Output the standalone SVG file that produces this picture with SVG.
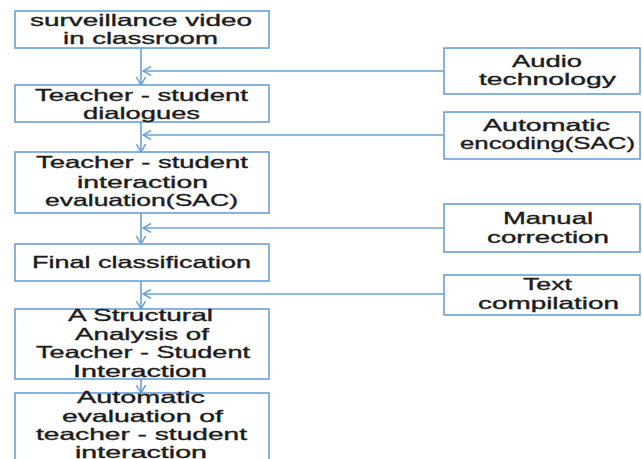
<svg xmlns="http://www.w3.org/2000/svg" width="642" height="459" viewBox="0 0 642 459">
<defs>
<style>
.box{fill:#fff;stroke:#6a9fd8;stroke-width:1.6}
.ln{fill:none;stroke:#6a9fd8;stroke-width:1.6}
text{font-family:"Liberation Sans",Arial,sans-serif;font-size:16.5px;fill:#1c1c1c;stroke:#1c1c1c;stroke-width:0.35}
</style>
<marker id="ah" viewBox="0 0 10 10" refX="9" refY="5" markerWidth="10" markerHeight="10" markerUnits="userSpaceOnUse" orient="auto">
<path d="M1,0.5 L9,5 L1,9.5" fill="none" stroke="#6a9fd8" stroke-width="1.5"/>
</marker>
</defs>
<rect width="642" height="459" fill="#fff"/>
<g id="connectors">
<line class="ln" x1="141" y1="48" x2="141" y2="85" marker-end="url(#ah)"/>
<line class="ln" x1="141" y1="122" x2="141" y2="152" marker-end="url(#ah)"/>
<line class="ln" x1="141" y1="213" x2="141" y2="244" marker-end="url(#ah)"/>
<line class="ln" x1="141" y1="281" x2="141" y2="309" marker-end="url(#ah)"/>
<line class="ln" x1="141" y1="379" x2="141" y2="393" marker-end="url(#ah)"/>
<line class="ln" x1="444" y1="71" x2="143" y2="71" marker-end="url(#ah)"/>
<line class="ln" x1="444" y1="135" x2="143" y2="135" marker-end="url(#ah)"/>
<line class="ln" x1="444" y1="228" x2="143" y2="228" marker-end="url(#ah)"/>
<line class="ln" x1="444" y1="294" x2="143" y2="294" marker-end="url(#ah)"/>
</g>
<g id="n1"><rect class="box" x="15" y="11" width="254" height="37"/>
<text x="30" y="26" textLength="222" lengthAdjust="spacingAndGlyphs">surveillance video</text>
<text x="63" y="44" textLength="155" lengthAdjust="spacingAndGlyphs">in classroom</text></g>
<g id="n2"><rect class="box" x="15" y="85" width="254" height="37"/>
<text x="35" y="101" textLength="213" lengthAdjust="spacingAndGlyphs">Teacher - student</text>
<text x="83" y="119" textLength="117" lengthAdjust="spacingAndGlyphs">dialogues</text></g>
<g id="n3"><rect class="box" x="15" y="152" width="254" height="61"/>
<text x="36" y="168" textLength="212" lengthAdjust="spacingAndGlyphs">Teacher - student</text>
<text x="77" y="188" textLength="131" lengthAdjust="spacingAndGlyphs">interaction</text>
<text x="45" y="206" textLength="193" lengthAdjust="spacingAndGlyphs">evaluation(SAC)</text></g>
<g id="n4"><rect class="box" x="15" y="244" width="254" height="37"/>
<text x="32" y="268" textLength="219" lengthAdjust="spacingAndGlyphs">Final classification</text></g>
<g id="n5"><rect class="box" x="15" y="309" width="254" height="70"/>
<text x="68" y="321" textLength="145" lengthAdjust="spacingAndGlyphs">A Structural</text>
<text x="75" y="340" textLength="134" lengthAdjust="spacingAndGlyphs">Analysis of</text>
<text x="36" y="358" textLength="214" lengthAdjust="spacingAndGlyphs">Teacher - Student</text>
<text x="73" y="377" textLength="134" lengthAdjust="spacingAndGlyphs">Interaction</text></g>
<g id="n6"><rect class="box" x="15" y="393" width="254" height="80"/>
<text x="77" y="403" textLength="128" lengthAdjust="spacingAndGlyphs">Automatic</text>
<text x="62" y="422" textLength="161" lengthAdjust="spacingAndGlyphs">evaluation of</text>
<text x="36" y="440" textLength="211" lengthAdjust="spacingAndGlyphs">teacher - student</text>
<text x="75" y="458" textLength="132" lengthAdjust="spacingAndGlyphs">interaction</text></g>
<g id="r1"><rect class="box" x="444" y="48" width="196" height="46"/>
<text x="512" y="67" textLength="70" lengthAdjust="spacingAndGlyphs">Audio</text>
<text x="479" y="85" textLength="137" lengthAdjust="spacingAndGlyphs">technology</text></g>
<g id="r2"><rect class="box" x="444" y="112" width="196" height="47"/>
<text x="483" y="131" textLength="127" lengthAdjust="spacingAndGlyphs">Automatic</text>
<text x="460" y="149" textLength="175" lengthAdjust="spacingAndGlyphs">encoding(SAC)</text></g>
<g id="r3"><rect class="box" x="444" y="204" width="196" height="48"/>
<text x="503" y="224" textLength="90" lengthAdjust="spacingAndGlyphs">Manual</text>
<text x="487" y="243" textLength="122" lengthAdjust="spacingAndGlyphs">correction</text></g>
<g id="r4"><rect class="box" x="444" y="275" width="196" height="40"/>
<text x="523" y="290" textLength="49" lengthAdjust="spacingAndGlyphs">Text</text>
<text x="478" y="309" textLength="141" lengthAdjust="spacingAndGlyphs">compilation</text></g>
</svg>
